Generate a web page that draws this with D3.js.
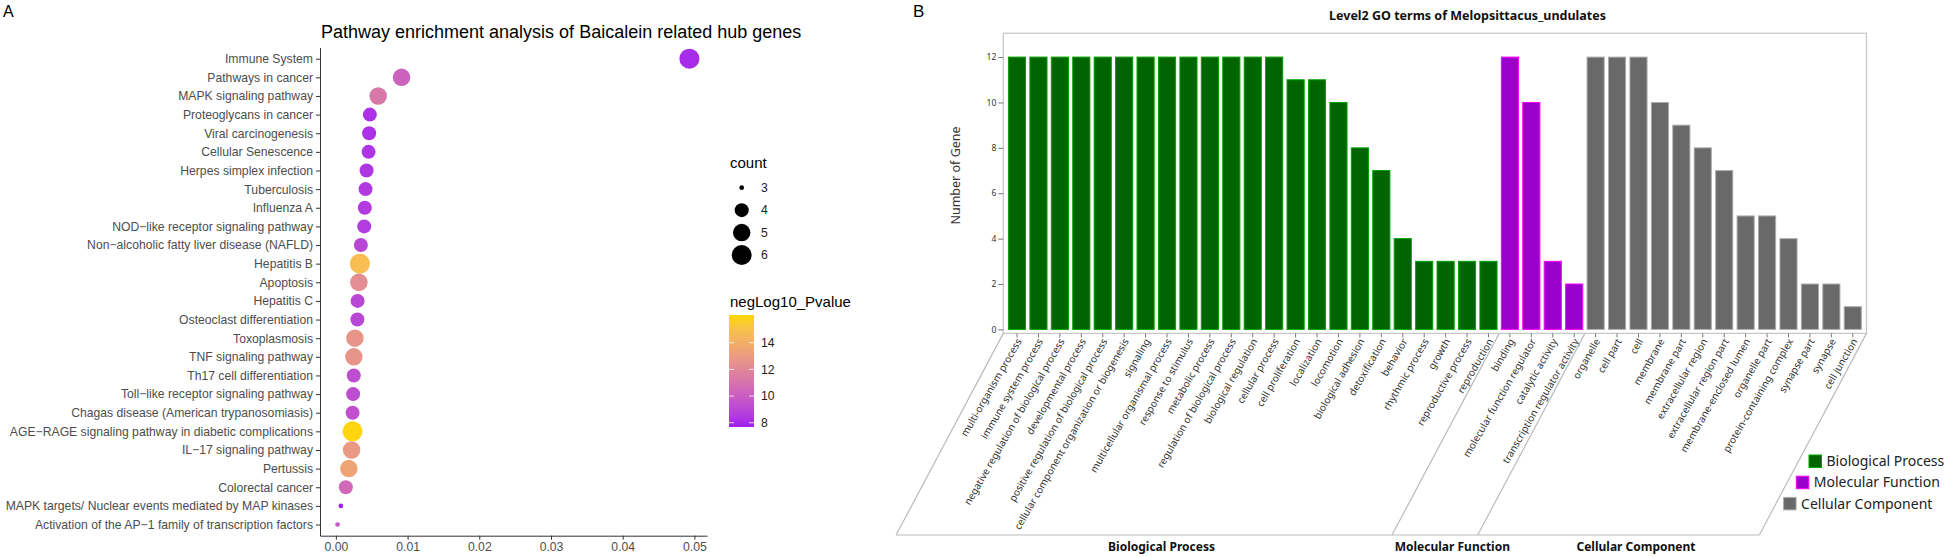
<!DOCTYPE html>
<html>
<head>
<meta charset="utf-8">
<script src="https://cdn.jsdelivr.net/npm/d3@7"></script>
<style>
  body { margin: 0; background: #fff; }
</style>
</head>
<body>
<svg id="chart" width="1944" height="557"></svg>
<script>
// ---- panel A data ----
const pathways = [
  'Immune System', 'Pathways in cancer', 'MAPK signaling pathway', 'Proteoglycans in cancer',
  'Viral carcinogenesis', 'Cellular Senescence', 'Herpes simplex infection', 'Tuberculosis',
  'Influenza A', 'NOD\u2212like receptor signaling pathway', 'Non\u2212alcoholic fatty liver disease (NAFLD)',
  'Hepatitis B', 'Apoptosis', 'Hepatitis C', 'Osteoclast differentiation', 'Toxoplasmosis',
  'TNF signaling pathway', 'Th17 cell differentiation', 'Toll\u2212like receptor signaling pathway',
  'Chagas disease (American trypanosomiasis)', 'AGE\u2212RAGE signaling pathway in diabetic complications',
  'IL\u221217 signaling pathway', 'Pertussis', 'Colorectal cancer',
  'MAPK targets/ Nuclear events mediated by MAP kinases',
  'Activation of the AP\u22121 family of transcription factors'
];
const pValues = [0.0493, 0.00916, 0.0059, 0.00474, 0.00464, 0.00456, 0.00428, 0.00414, 0.00404,
  0.00395, 0.00349, 0.00335, 0.00321, 0.00303, 0.0030, 0.00265, 0.00251, 0.0025, 0.00241, 0.00233,
  0.00232, 0.00219, 0.00181, 0.00139, 0.0007, 0.00024];
const geneCounts = [6, 5, 5, 4, 4, 4, 4, 4, 4, 4, 4, 6, 5, 4, 4, 5, 5, 4, 4, 4, 6, 5, 5, 4, 3, 3];
const negLog10 = [8.0, 10.2, 11.2, 8.2, 8.2, 8.3, 8.4, 8.5, 8.5, 8.6, 9.0, 14.8, 12.3, 9.0, 9.0,
  12.7, 12.7, 9.3, 9.3, 9.4, 16.0, 12.9, 13.5, 10.5, 7.7, 9.8];
const xTicksA = [0, 0.01, 0.02, 0.03, 0.04, 0.05];
const sizeKeys = [3, 4, 5, 6];
const colorKeys = [8, 10, 12, 14];

// ---- panel B data ----
const goTerms = [
  'multi-organism process', 'immune system process', 'negative regulation of biological process',
  'developmental process', 'positive regulation of biological process',
  'cellular component organization or biogenesis', 'signaling', 'multicellular organismal process',
  'response to stimulus', 'metabolic process', 'regulation of biological process',
  'biological regulation', 'cellular process', 'cell proliferation', 'localization', 'locomotion',
  'biological adhesion', 'detoxification', 'behavior', 'rhythmic process', 'growth',
  'reproductive process', 'reproduction',
  'binding', 'molecular function regulator', 'catalytic activity', 'transcription regulator activity',
  'organelle', 'cell part', 'cell', 'membrane', 'membrane part', 'extracellular region',
  'extracellular region part', 'membrane-enclosed lumen', 'organelle part',
  'protein-containing complex', 'synapse part', 'synapse', 'cell junction'
];
const goCounts = [12, 12, 12, 12, 12, 12, 12, 12, 12, 12, 12, 12, 12, 11, 11, 10, 8, 7, 4, 3, 3, 3, 3,
  12, 10, 3, 2,
  12, 12, 12, 10, 9, 8, 7, 5, 5, 4, 2, 2, 1];
const groupNames = ['Biological Process', 'Molecular Function', 'Cellular Component'];
const groupSizes = [23, 4, 13];
const groupColors = ['#006400', '#9900cc', '#696969'];
const yTicksB = [0, 2, 4, 6, 8, 10, 12];

const svg = d3.select('#chart');
svg.append('rect').attr('width', 1944).attr('height', 557).attr('fill', '#fff');

const fontA = '"Liberation Sans", Arial, sans-serif';
const fontB = '"Noto Sans", "Open Sans", sans-serif';

// ================= Panel A =================
svg.append('text')
  .attr('x', 3).attr('y', 17)
  .attr('font-family', fontA).attr('font-size', 16)
  .text('A');

svg.append('text')
  .attr('x', 321).attr('y', 38)
  .attr('font-family', fontA).attr('font-size', 18)
  .text('Pathway enrichment analysis of Baicalein related hub genes');

const pExt = d3.extent(pValues);
const pPad = (pExt[1] - pExt[0]) * 0.05;
const xA = d3.scaleLinear().domain([pExt[0] - pPad, pExt[1] + pPad]).range([320, 707]);
const yA = d3.scalePoint().domain(pathways).range([47.5, 535.7]).padding(0.6);
const rA = d3.scaleLinear().domain(sizeKeys).range([2.35, 7, 8.75, 10]);
const colA = d3.scaleLinear().domain([7.68, 16.08]).range(['#a020f0', '#ffd700'])
  .interpolate(d3.interpolateLab);

const axA_left = svg.append('g')
  .attr('transform', 'translate(320,0)')
  .call(d3.axisLeft(yA).tickSize(4).tickPadding(3).tickSizeOuter(0));
const axA_bottom = svg.append('g')
  .attr('transform', 'translate(0,535.7)')
  .call(d3.axisBottom(xA).tickValues(xTicksA).tickFormat(d3.format('.2f'))
    .tickSize(4).tickPadding(3).tickSizeOuter(0));

[axA_left, axA_bottom].forEach(g => {
  g.attr('font-family', fontA).attr('font-size', 12.2);
  g.selectAll('text').attr('fill', '#4d4d4d');
  g.selectAll('line').attr('stroke', '#333');
  g.select('.domain').attr('stroke', '#333');
});

svg.append('g')
  .selectAll('circle')
  .data(pathways)
  .join('circle')
  .attr('cx', (d, i) => xA(pValues[i]))
  .attr('cy', d => yA(d))
  .attr('r', (d, i) => rA(geneCounts[i]))
  .attr('fill', (d, i) => colA(negLog10[i]));

// legend: count
const legA = svg.append('g').attr('font-family', fontA);
legA.append('text').attr('x', 730).attr('y', 168).attr('font-size', 15).text('count');
const yKey = d3.scalePoint().domain(sizeKeys).range([187.7, 255]);
legA.selectAll('circle.key')
  .data(sizeKeys)
  .join('circle')
  .attr('class', 'key')
  .attr('cx', 741.7)
  .attr('cy', d => yKey(d))
  .attr('r', d => rA(d))
  .attr('fill', '#000');
legA.selectAll('text.klab')
  .data(sizeKeys)
  .join('text')
  .attr('class', 'klab')
  .attr('x', 761)
  .attr('y', d => yKey(d))
  .attr('dy', '0.35em')
  .attr('font-size', 12.2)
  .attr('fill', '#222')
  .text(d => d);

// legend: colour bar
legA.append('text').attr('x', 730).attr('y', 307).attr('font-size', 15).text('negLog10_Pvalue');
const grad = svg.append('defs').append('linearGradient')
  .attr('id', 'cbar').attr('x1', 0).attr('y1', 1).attr('x2', 0).attr('y2', 0);
d3.range(0, 1.0001, 0.1).forEach(t => {
  grad.append('stop').attr('offset', t)
    .attr('stop-color', colA(colA.domain()[0] + t * (colA.domain()[1] - colA.domain()[0])));
});
const yBar = d3.scaleLinear().domain(colA.domain()).range([427, 315]);
legA.append('rect')
  .attr('x', 729).attr('y', 315).attr('width', 25).attr('height', 112)
  .attr('fill', 'url(#cbar)');
colorKeys.forEach(v => {
  legA.append('line').attr('x1', 729).attr('x2', 734).attr('y1', yBar(v)).attr('y2', yBar(v))
    .attr('stroke', '#fff').attr('stroke-width', 0.8);
  legA.append('line').attr('x1', 749).attr('x2', 754).attr('y1', yBar(v)).attr('y2', yBar(v))
    .attr('stroke', '#fff').attr('stroke-width', 0.8);
});
legA.selectAll('text.clab')
  .data(colorKeys)
  .join('text')
  .attr('class', 'clab')
  .attr('x', 761)
  .attr('y', d => yBar(d))
  .attr('dy', '0.35em')
  .attr('font-size', 12.2)
  .attr('fill', '#222')
  .text(d => d);

// ================= Panel B =================
svg.append('text')
  .attr('x', 913).attr('y', 17)
  .attr('font-family', fontA).attr('font-size', 17)
  .text('B');

svg.append('text')
  .attr('x', 1467.5).attr('y', 20)
  .attr('text-anchor', 'middle')
  .attr('font-family', fontB).attr('font-size', 12.5).attr('font-weight', 'bold')
  .attr('fill', '#111')
  .text('Level2 GO terms of Melopsittacus_undulates');

const goGroup = [];
groupNames.forEach((g, i) => { for (let k = 0; k < groupSizes[i]; k++) goGroup.push(g); });
const colB = d3.scaleOrdinal().domain(groupNames).range(groupColors);

const left = 1003.3, right = 1866.5;
const xB = d3.scaleBand().domain(goTerms).range([left, right]).paddingInner(0.2).paddingOuter(0.24);
const yB = d3.scaleLinear().domain([0, 13]).range([329.4, 34.4]);
const base = yB(0) + 4;

svg.append('rect')
  .attr('x', left).attr('y', yB(13.05))
  .attr('width', right - left).attr('height', base - yB(13.05))
  .attr('fill', 'none').attr('stroke', '#c8c8c8').attr('stroke-width', 1.3);

svg.append('text')
  .attr('transform', 'translate(960,175.5) rotate(-90)')
  .attr('text-anchor', 'middle')
  .attr('font-family', fontB).attr('font-size', 12.5).attr('fill', '#333')
  .text('Number of Gene');

const axB_left = svg.append('g')
  .attr('transform', `translate(${left},0)`)
  .call(d3.axisLeft(yB).tickValues(yTicksB).tickSize(5).tickPadding(2).tickSizeOuter(0));
axB_left.select('.domain').remove();
axB_left.attr('font-family', fontB).attr('font-size', 8.5);
axB_left.selectAll('text').attr('fill', '#333');
axB_left.selectAll('line').attr('stroke', '#777');

svg.append('g')
  .selectAll('rect')
  .data(goTerms)
  .join('rect')
  .attr('x', d => xB(d))
  .attr('y', (d, i) => yB(goCounts[i]))
  .attr('width', xB.bandwidth())
  .attr('height', (d, i) => yB(0) - yB(goCounts[i]))
  .attr('fill', (d, i) => colB(goGroup[i]))
  .attr('stroke', (d, i) => d3.color(colB(goGroup[i])).brighter(1.4))
  .attr('stroke-width', 1);

const axB_bottom = svg.append('g')
  .attr('transform', `translate(0,${base})`)
  .call(d3.axisBottom(xB).tickSize(4).tickSizeOuter(0));
axB_bottom.select('.domain').remove();
axB_bottom.selectAll('line').attr('stroke', '#777');
axB_bottom.selectAll('text')
  .attr('font-family', fontB).attr('font-size', 10).attr('fill', '#333')
  .attr('text-anchor', 'end')
  .attr('x', 0).attr('y', 0).attr('dy', '0.35em')
  .attr('transform', 'translate(2,6) rotate(-60)');

// group brackets
const bottomY = 535;
const slant = (bottomY - base) / Math.tan(62 * Math.PI / 180);
const bounds = [left];
let acc = 0;
groupSizes.forEach((n, i) => {
  acc += n;
  if (i < groupSizes.length - 1) {
    const a = goTerms[acc - 1], b = goTerms[acc];
    bounds.push((xB(a) + xB.bandwidth() + xB(b)) / 2);
  }
});
bounds.push(right);

const brk = svg.append('g').attr('stroke', '#bbb').attr('stroke-width', 1.2);
bounds.forEach(bx => {
  brk.append('line').attr('x1', bx).attr('y1', base).attr('x2', bx - slant).attr('y2', bottomY);
});
brk.append('line').attr('x1', left - slant).attr('y1', bottomY)
  .attr('x2', right - slant).attr('y2', bottomY);

svg.append('g')
  .selectAll('text')
  .data(groupNames)
  .join('text')
  .attr('x', (d, i) => (bounds[i] + bounds[i + 1]) / 2 - slant + 17.5)
  .attr('y', 551)
  .attr('text-anchor', 'middle')
  .attr('font-family', fontB).attr('font-size', 12).attr('font-weight', 'bold')
  .attr('fill', '#111')
  .text(d => d);

// legend B
const legB = svg.append('g').attr('font-family', fontB);
const legX = d3.scaleLinear().domain([0, 2]).range([1809, 1783.6]);
const legY = d3.scaleLinear().domain([0, 2]).range([455, 497.4]);
groupNames.forEach((g, i) => {
  legB.append('rect')
    .attr('x', legX(i)).attr('y', legY(i)).attr('width', 12.5).attr('height', 12.5)
    .attr('fill', colB(g)).attr('stroke', d3.color(colB(g)).brighter(1.4)).attr('stroke-width', 1);
  legB.append('text')
    .attr('x', legX(i) + 17.5).attr('y', legY(i) + 6.25).attr('dy', '0.35em')
    .attr('font-size', 14).attr('fill', '#222')
    .text(g);
});
</script>
</body>
</html>
